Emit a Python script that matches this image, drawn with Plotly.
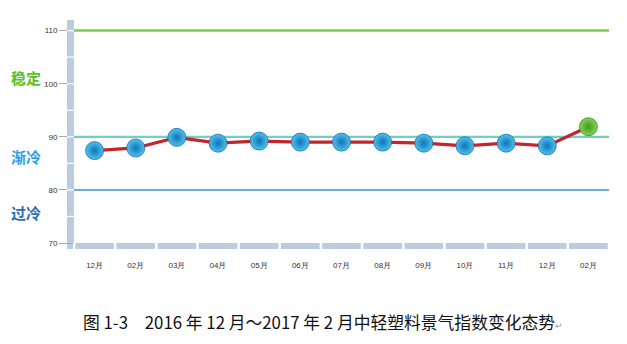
import plotly.graph_objects as go

months = ["12月", "02月", "03月", "04月", "05月", "06月", "07月", "08月", "09月", "10月", "11月", "12月", "02月"]
values = [87.4, 87.9, 89.9, 88.8, 89.2, 89.0, 89.0, 89.0, 88.8, 88.3, 88.8, 88.3, 91.9]
y_ticks = [70, 80, 90, 100, 110]
levels = [110, 90, 80]
level_colors = ["#7ccc4c", "#6fd0c4", "#3a93d8"]
level_widths = [2.5, 2.2, 1.5]
zone_labels = ["稳定", "渐冷", "过冷"]
zone_label_y = [101.2, 86.2, 75.8]
zone_colors = ["#5cbf28", "#2e9ee6", "#2a6db8"]
caption = "图 1-3　2016 年 12 月～2017 年 2 月中轻塑料景气指数变化态势"

x_idx = list(range(len(months)))
n = len(months)
YMIN, YMAX = 70, 112

fig = go.Figure()

fig.add_trace(go.Scatter(
    x=x_idx, y=values, mode="lines",
    line=dict(color="#c3262a", width=3.2),
    hoverinfo="skip", showlegend=False,
))
marker_edge = ["#0d76b4"] * (n - 1) + ["#3f9a1e"]
marker_center = ["#52bff0"] * (n - 1) + ["#86d356"]
outline = ["#1270a8"] * (n - 1) + ["#3a8a1c"]
fig.add_trace(go.Scatter(
    x=x_idx, y=values, mode="markers",
    marker=dict(size=18, color=marker_center,
                gradient=dict(type="radial", color=marker_edge),
                line=dict(width=0.8, color=outline)),
    showlegend=False,
))

shapes = []
for lv, c, w in zip(levels, level_colors, level_widths):
    shapes.append(dict(type="line", xref="paper", yref="y", x0=0, x1=1, y0=lv, y1=lv,
                       line=dict(color=c, width=w), layer="below"))

bar_col = "#bccce0"
shapes.append(dict(type="rect", xref="paper", yref="paper", xsizemode="pixel", xanchor=0,
                   x0=-7, x1=0, y0=0, y1=1, fillcolor=bar_col, line=dict(width=0), layer="above"))
for v in range(75, 111, 5):
    yp = (v - YMIN) / (YMAX - YMIN)
    shapes.append(dict(type="line", xref="paper", yref="paper", xsizemode="pixel", xanchor=0,
                       x0=-7, x1=0, y0=yp, y1=yp, line=dict(color="white", width=1.2), layer="above"))
shapes.append(dict(type="rect", xref="paper", yref="paper", xsizemode="pixel", xanchor=0,
                   ysizemode="pixel", yanchor=0,
                   x0=-7, x1=-1, y0=-6, y1=-1, fillcolor=bar_col, line=dict(width=0), layer="above"))
for i in range(n):
    shapes.append(dict(type="rect", xref="paper", yref="paper", ysizemode="pixel", yanchor=0,
                       x0=(i + 0.03) / n, x1=(i + 0.97) / n, y0=-6, y1=0,
                       fillcolor=bar_col, line=dict(width=0), layer="above"))

annotations = []
for t, yv, c in zip(zone_labels, zone_label_y, zone_colors):
    annotations.append(dict(text="<b>" + t + "</b>", xref="paper", yref="y", x=-0.121, y=yv,
                            xanchor="left", yanchor="middle", showarrow=False,
                            font=dict(family="Noto Sans CJK SC", size=15, color=c)))
annotations.append(dict(text=caption + '<span style="font-size:9px;color:#999">↵</span>',
                        xref="paper", yref="paper", x=0.465, y=-0.354,
                        xanchor="center", yanchor="middle", showarrow=False,
                        font=dict(family="Noto Sans CJK SC", size=16.8, color="#111")))

fig.update_layout(
    width=627, height=344,
    margin=dict(l=74, r=18, t=20, b=101),
    paper_bgcolor="white", plot_bgcolor="white",
    shapes=shapes, annotations=annotations,
    xaxis=dict(range=[-0.5, n - 0.5], tickvals=x_idx, ticktext=months,
               showgrid=False, zeroline=False, showline=False, ticks="",
               ticklabelstandoff=16,
               tickfont=dict(family="Arial", size=8, color="#333")),
    yaxis=dict(range=[YMIN, YMAX], tickvals=y_ticks, showgrid=False, zeroline=False,
               showline=False, ticks="outside", ticklen=14, tickwidth=1, tickcolor="#aaa",
               tickfont=dict(family="Arial", size=8, color="#333")),
)

fig.write_html("out.html")
